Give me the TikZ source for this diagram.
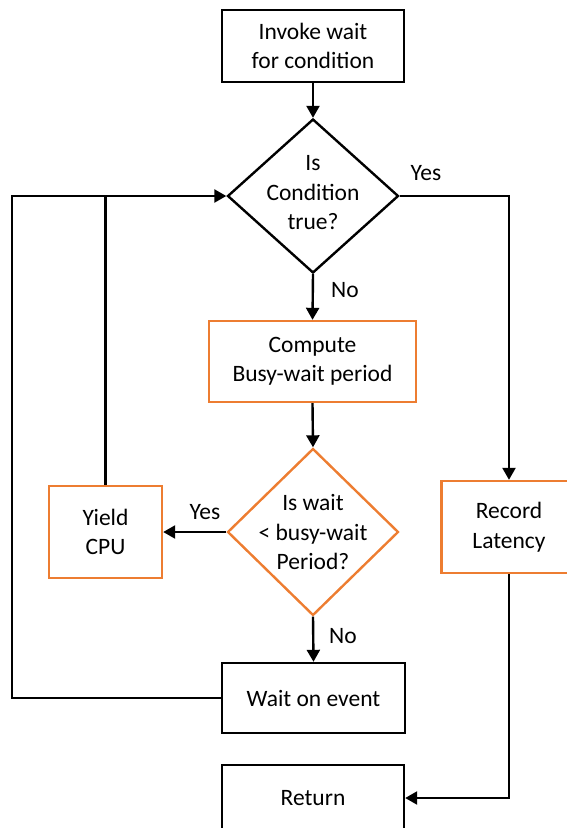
\documentclass[tikz,border=0pt]{standalone}
\usepackage{fontspec}
\setmainfont{Carlito}
\usetikzlibrary{shapes.geometric,arrows.meta}
\definecolor{orng}{RGB}{237,125,49}
\begin{document}
\begin{tikzpicture}[x=1pt,y=-1pt,
  every node/.style={font=\fontsize{23.5}{29.5}\selectfont, text=black},
  blk/.style={draw=black, line width=2.4pt, rectangle, inner sep=0pt, align=center},
  org/.style={draw=orng, line width=2.4pt, rectangle, inner sep=0pt, align=center},
  dia/.style={draw=black, line width=2.4pt, diamond, inner sep=0pt},
  dia2/.style={draw=orng, line width=2.4pt, diamond, inner sep=0pt},
  dtext/.style={inner sep=0pt, align=center},
  conn/.style={draw=black, line width=2.4pt},
  arr/.style={conn, -{Triangle[length=12pt,width=13pt]}},
  lbl/.style={inner sep=0pt}]
\useasboundingbox (0,0) rectangle (567,828);
\node[blk, minimum width=182, minimum height=72] (invoke) at (313,46) {Invoke wait\\for condition};
\node[dia, minimum width=171, minimum height=154] (d1) at (313,196) {};
\node[dtext] (d1t) at (313,193) {Is\\Condition\\true?};
\node[org, minimum width=207, minimum height=81] (comp) at (312.5,361.5) {Compute\\Busy-wait period};
\node[dia2, minimum width=171, minimum height=167] (d2) at (313,532) {};
\node[dtext] (d2t) at (313,532) {Is wait\\< busy-wait\\Period?};
\node[org, minimum width=113, minimum height=92] (yield) at (105.5,532) {Yield\\CPU};
\node[org, minimum width=135, minimum height=92] (rec) at (509,527) {Record\\Latency};
\node[blk, minimum width=183, minimum height=70] (wait) at (313.5,698) {Wait on event};
\node[blk, minimum width=182, minimum height=66] (ret) at (313,798) {Return};
\node[lbl] (l1) at (426,173) {Yes};
\node[lbl] (l2) at (345,290) {No};
\node[lbl] (l3) at (205,512) {Yes};
\node[lbl] (l4) at (343,636) {No};
\coordinate (lc) at (12,0);
\draw[arr] (invoke.south) -- (d1.north);
\draw[arr] (d1.south) -- (comp.north);
\draw[arr] (comp.south) -- (d2.north);
\draw[arr] (d2.south) -- (wait.north);
\draw[arr] (d2.west) -- (yield.east);
\draw[arr] (d1.east) -| (rec.north);
\draw[arr] (rec.south) |- (ret.east);
\draw[conn] (yield.north) -- (yield.north |- d1.west);
\draw[arr] (wait.west) -- (lc |- wait.west) -- (lc |- d1.west) -- (d1.west);
\end{tikzpicture}
\end{document}
